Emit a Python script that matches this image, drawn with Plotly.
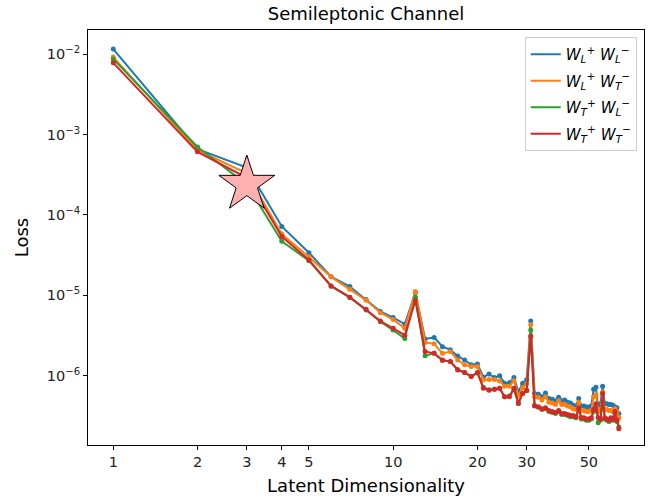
import plotly.graph_objects as go

# Latent dimensionality scanned (1..64)
latent_dim = list(range(1, 65))

# Validation loss per polarisation channel
loss_LL = [
    1.16e-2, 6.6e-4, 3.9e-4, 7.2e-5, 3.4e-5, 1.71e-5, 1.29e-5, 8.9e-6, 6.3e-6, 5.3e-6,
    4.4e-6, 1.08e-5, 2.87e-6, 3.0e-6, 2.3e-6, 2.1e-6, 1.76e-6, 1.57e-6, 1.37e-6, 1.4e-6,
    0.96e-6, 1.05e-6, 0.95e-6, 1.0e-6, 0.81e-6, 0.82e-6, 0.95e-6, 0.63e-6, 0.81e-6, 0.90e-6,
    4.8e-6, 0.60e-6, 0.59e-6, 0.55e-6, 0.61e-6, 0.52e-6, 0.51e-6, 0.49e-6, 0.54e-6, 0.49e-6,
    0.50e-6, 0.47e-6, 0.46e-6, 0.43e-6, 0.42e-6, 0.52e-6, 0.42e-6, 0.42e-6, 0.41e-6, 0.41e-6,
    0.42e-6, 0.68e-6, 0.72e-6, 0.40e-6, 0.45e-6, 0.74e-6, 0.45e-6, 0.45e-6, 0.44e-6, 0.44e-6,
    0.43e-6, 0.41e-6, 0.40e-6, 0.34e-6,
]
loss_LT = [
    9.2e-3, 6.4e-4, 3.3e-4, 5.8e-5, 3.0e-5, 1.7e-5, 1.19e-5, 8.7e-6, 6.1e-6, 5.0e-6,
    3.9e-6, 1.12e-5, 2.6e-6, 2.5e-6, 1.9e-6, 2.0e-6, 1.57e-6, 1.37e-6, 1.3e-6, 1.3e-6,
    0.89e-6, 0.90e-6, 0.90e-6, 0.86e-6, 0.74e-6, 0.74e-6, 0.87e-6, 0.57e-6, 0.71e-6, 0.80e-6,
    4.3e-6, 0.55e-6, 0.54e-6, 0.50e-6, 0.55e-6, 0.47e-6, 0.46e-6, 0.44e-6, 0.49e-6, 0.44e-6,
    0.44e-6, 0.42e-6, 0.41e-6, 0.39e-6, 0.38e-6, 0.47e-6, 0.37e-6, 0.37e-6, 0.36e-6, 0.36e-6,
    0.37e-6, 0.55e-6, 0.58e-6, 0.36e-6, 0.38e-6, 0.63e-6, 0.38e-6, 0.38e-6, 0.37e-6, 0.37e-6,
    0.36e-6, 0.39e-6, 0.36e-6, 0.30e-6,
]
loss_TL = [
    8.7e-3, 7.0e-4, 2.4e-4, 4.7e-5, 2.7e-5, 1.3e-5, 9.4e-6, 6.6e-6, 4.7e-6, 3.7e-6,
    2.9e-6, 9.5e-6, 1.77e-6, 1.9e-6, 1.55e-6, 1.5e-6, 1.2e-6, 1.1e-6, 0.99e-6, 1.08e-6,
    0.72e-6, 0.67e-6, 0.68e-6, 0.70e-6, 0.55e-6, 0.56e-6, 0.68e-6, 0.45e-6, 0.60e-6, 0.65e-6,
    3.7e-6, 0.43e-6, 0.41e-6, 0.38e-6, 0.39e-6, 0.36e-6, 0.35e-6, 0.34e-6, 0.36e-6, 0.33e-6,
    0.33e-6, 0.32e-6, 0.31e-6, 0.31e-6, 0.30e-6, 0.38e-6, 0.29e-6, 0.29e-6, 0.28e-6, 0.28e-6,
    0.29e-6, 0.36e-6, 0.42e-6, 0.26e-6, 0.28e-6, 0.48e-6, 0.29e-6, 0.28e-6, 0.27e-6, 0.29e-6,
    0.28e-6, 0.34e-6, 0.27e-6, 0.23e-6,
]
loss_TT = [
    7.8e-3, 6.1e-4, 2.9e-4, 5.4e-5, 2.75e-5, 1.31e-5, 9.5e-6, 6.7e-6, 4.8e-6, 3.9e-6,
    3.2e-6, 8.6e-6, 2.0e-6, 1.9e-6, 1.57e-6, 1.5e-6, 1.18e-6, 1.1e-6, 0.98e-6, 1.1e-6,
    0.70e-6, 0.66e-6, 0.68e-6, 0.70e-6, 0.55e-6, 0.55e-6, 0.70e-6, 0.46e-6, 0.60e-6, 0.66e-6,
    3.1e-6, 0.42e-6, 0.41e-6, 0.39e-6, 0.40e-6, 0.37e-6, 0.36e-6, 0.35e-6, 0.37e-6, 0.34e-6,
    0.34e-6, 0.33e-6, 0.32e-6, 0.32e-6, 0.31e-6, 0.40e-6, 0.30e-6, 0.30e-6, 0.29e-6, 0.29e-6,
    0.30e-6, 0.38e-6, 0.45e-6, 0.30e-6, 0.29e-6, 0.60e-6, 0.30e-6, 0.29e-6, 0.28e-6, 0.30e-6,
    0.29e-6, 0.36e-6, 0.28e-6, 0.22e-6,
]

series_names = [
    "<i>W</i><sub><i>L</i></sub><sup>+</sup> <i>W</i><sub><i>L</i></sub><sup>−</sup>",
    "<i>W</i><sub><i>L</i></sub><sup>+</sup> <i>W</i><sub><i>T</i></sub><sup>−</sup>",
    "<i>W</i><sub><i>T</i></sub><sup>+</sup> <i>W</i><sub><i>L</i></sub><sup>−</sup>",
    "<i>W</i><sub><i>T</i></sub><sup>+</sup> <i>W</i><sub><i>T</i></sub><sup>−</sup>",
]
series_values = [loss_LL, loss_LT, loss_TL, loss_TT]
series_colors = ["#1f77b4", "#ff7f0e", "#2ca02c", "#d62728"]

# Chosen working point
chosen_dim = [3]
chosen_loss = [2.4e-4]

x_tick_vals = [1, 2, 3, 4, 5, 10, 20, 30, 50]
x_tick_text = ["1", "2", "3", "4", "5", "10", "20", "30", "50"]
y_tick_vals = [1e-6, 1e-5, 1e-4, 1e-3, 1e-2]
y_tick_text = ["10<sup>−6</sup>", "10<sup>−5</sup>", "10<sup>−4</sup>",
               "10<sup>−3</sup>", "10<sup>−2</sup>"]

fig = go.Figure()

for name, vals, col in zip(series_names, series_values, series_colors):
    fig.add_trace(go.Scatter(
        x=latent_dim, y=vals, mode="lines+markers",
        line=dict(color=col, width=2),
        marker=dict(color=col, size=5),
        showlegend=False,
    ))

# Legend entries drawn as plain line handles, one group each for spacing
for i, (name, col) in enumerate(zip(series_names, series_colors)):
    fig.add_trace(go.Scatter(
        x=[None], y=[None], mode="lines", name=name, legendgroup=f"g{i}",
        line=dict(color=col, width=2),
    ))

fig.add_trace(go.Scatter(
    x=chosen_dim, y=chosen_loss, mode="markers", showlegend=False,
    marker=dict(symbol="star", size=42, color="#ffb0b0",
                line=dict(color="black", width=1)),
))

font_family = "DejaVu Sans"
axis_common = dict(
    type="log", showgrid=False, zeroline=False,
    showline=True, linecolor="black", linewidth=1, mirror=True,
    ticks="outside", ticklen=4, tickwidth=1, tickcolor="black",
    tickfont=dict(family=font_family, size=14.5, color="#222"),
)

fig.update_layout(
    width=650, height=499,
    margin=dict(l=88, r=6, t=30, b=54),
    paper_bgcolor="white", plot_bgcolor="white",
    font=dict(family=font_family, color="#222"),
    title=dict(text="Semileptonic Channel", x=0.5, xref="paper", xanchor="center",
               y=1 - 14 / 499, yref="container", yanchor="middle",
               font=dict(family=font_family, size=18, color="black")),
    xaxis=dict(axis_common, range=[-0.0903, 1.896],
               tickvals=x_tick_vals, ticktext=x_tick_text,
               title=dict(text="Latent Dimensionality", standoff=9,
                          font=dict(family=font_family, size=18, color="black"))),
    yaxis=dict(axis_common, range=[-6.861, -1.699],
               tickvals=y_tick_vals, ticktext=y_tick_text,
               title=dict(text="Loss", standoff=13,
                          font=dict(family=font_family, size=18, color="black"))),
    legend=dict(x=0.987, y=0.983, xanchor="right", yanchor="top",
                bgcolor="rgba(255,255,255,0.8)", bordercolor="#ccc", borderwidth=1,
                font=dict(family=font_family, size=15, color="black"),
                tracegroupgap=4),
)

fig.write_html("out.html")
